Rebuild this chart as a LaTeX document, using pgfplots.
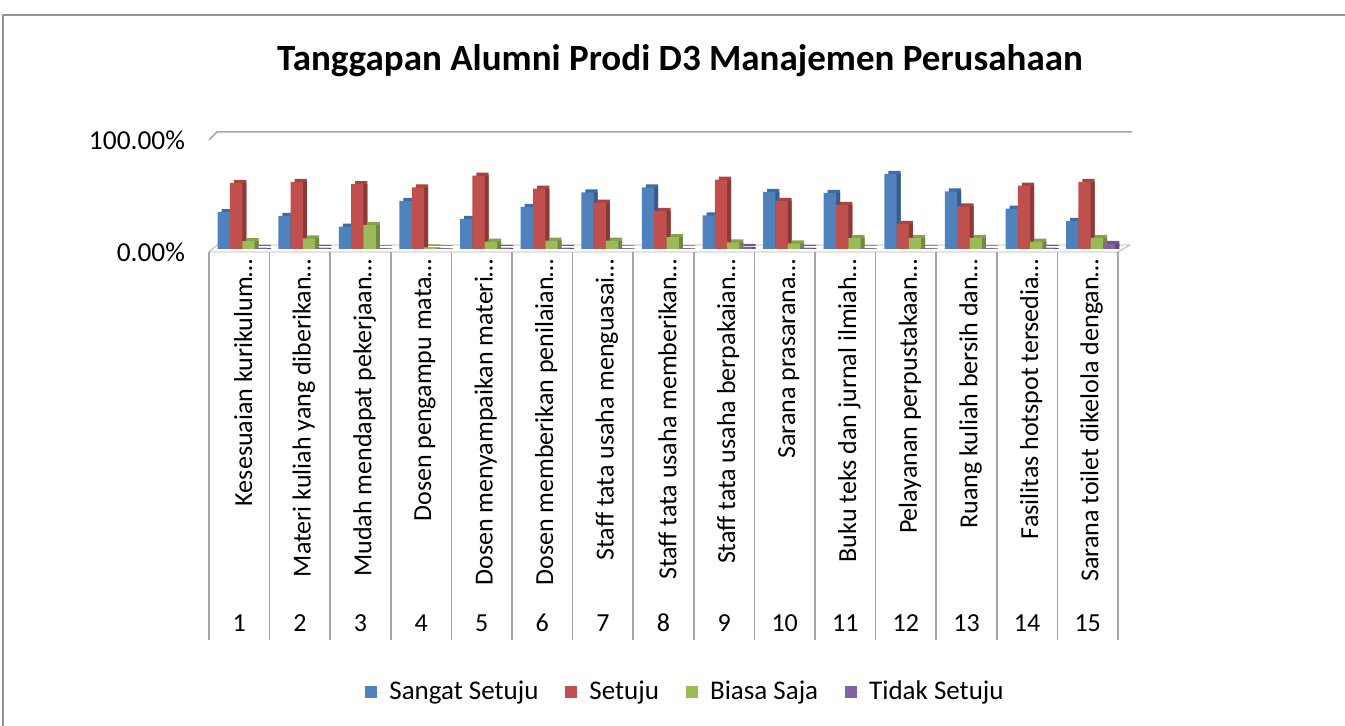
\documentclass[border=0pt]{standalone}
\usepackage{pgfplots}
\pgfplotsset{compat=1.18}
\usepackage{pgfplotstable}
\usepackage{fontspec}
\setmainfont{Carlito}
\definecolor{bF}{HTML}{4F81BD}\definecolor{bS}{HTML}{385D8A}\definecolor{bT}{HTML}{3E6CA4}
\definecolor{rF}{HTML}{C0504D}\definecolor{rS}{HTML}{8C3A37}\definecolor{rT}{HTML}{A84542}
\definecolor{gF}{HTML}{9BBB59}\definecolor{gS}{HTML}{71893F}\definecolor{gT}{HTML}{86A34B}
\definecolor{pF}{HTML}{8064A2}\definecolor{pS}{HTML}{5C4776}\definecolor{pT}{HTML}{6E5690}
\pgfplotstableread{
c ss s bs ts
1 33 59 7 1
2 29.5 60 9.5 1
3 20 58 21.5 0.5
4 43 55 1.5 0.5
5 27 65.5 6.5 1
6 37.5 54 7.5 1
7 50.5 41.5 7.5 0.5
8 55 34 10.5 0.5
9 30 62 6 2
10 51 43 5 1
11 50 39.5 10 0.5
12 67 22.5 10 0.5
13 51.5 38 10 0.5
14 36 56.5 6.5 1
15 25 60 10 4.5
}\data
\newcommand{\fs}{\fontsize{13}{15}\selectfont}
\newcommand{\fl}{\fontsize{13.5}{16}\selectfont}
\pgfplotsset{myleg/.style={legend image code/.code={\fill[##1] (0pt,-4.5pt) rectangle (6pt,1.5pt); \path (0pt,-1.5pt) -- (10pt,-1.5pt);}}}
\newcommand{\ser}[7]{%
\addplot[ybar, bar width=6.15pt, bar shift=#3, yshift=3pt, fill=#4, draw=none, forget plot] table[x=c,y=#1]{\data};
\addplot[ybar, bar width=6.15pt, bar shift=#3, yshift=1.5pt, fill=#5, draw=none, forget plot] table[x=c,y=#1]{\data};
\addplot[ybar, bar width=6.15pt, bar shift=#2, yshift=1.5pt, fill=#6, draw=none, myleg] table[x=c,y=#1]{\data};
\addlegendentry{#7}}
\begin{document}
\begin{tikzpicture}
\useasboundingbox (-104.5pt,-237pt) rectangle (568pt,126pt);
\draw[gray!85, line width=1pt] (-103pt,-237pt) -- (-103pt,118.5pt) -- (568pt,118.5pt);
\node[font=\bfseries\fontsize{18.5}{22}\selectfont] at (235.5pt,95.5pt) {Tanggapan Alumni Prodi D3 Manajemen Perusahaan};
\begin{axis}[at={(0,0)}, anchor=south west, scale only axis, width=454.5pt, height=56pt,
 xmin=0.5, xmax=15.5, ymin=0, ymax=100, clip=false,
 axis line style={draw=none}, major tick length=0pt,
 xtick={1,...,15},
 xticklabels={Kesesuaian kurikulum…, Materi kuliah yang diberikan…, Mudah mendapat pekerjaan…, Dosen pengampu mata…, Dosen menyampaikan materi…, Dosen memberikan penilaian…, Staff tata usaha menguasai…, Staff tata usaha memberikan…, Staff tata usaha berpakaian…, Sarana prasarana…, Buku teks dan jurnal ilmiah…, Pelayanan perpustakaan…, Ruang kuliah bersih dan…, Fasilitas hotspot tersedia…, Sarana toilet dikelola dengan…},
 xticklabel style={rotate=90, anchor=east, font=\fs, yshift=-2pt},
 ytick={0,100}, yticklabels={0.00\%,100.00\%},
 yticklabel style={font=\fontsize{13.7}{15}\selectfont, xshift=-8.5pt},
 legend style={at={(0.5,0)}, anchor=center, xshift=11.5pt, yshift=-220pt, draw=none, fill=none,
   font=\fl, /tikz/every even column/.append style={column sep=11.5pt}},
 legend columns=-1,
]
\draw[gray!60, fill=white] (axis cs:0.5,0) -- (axis cs:15.5,0) -- ([shift={(6pt,3.5pt)}]axis cs:15.5,0) -- ([shift={(4pt,3.5pt)}]axis cs:0.5,0) -- cycle;
\draw[gray!70, line width=0.75pt] (axis cs:0.5,100) -- ([shift={(4pt,4pt)}]axis cs:0.5,100) -- ([shift={(7pt,4pt)}]axis cs:15.5,100);
\pgfplotsinvokeforeach{0.5,1.5,...,15.5}{\draw[gray!70, line width=0.75pt] (axis cs:#1,0) -- ([yshift=-194pt]axis cs:#1,0);}
\pgfplotsinvokeforeach{1,...,15}{\node[font=\fs] at ([yshift=-185.5pt]axis cs:#1,0) {#1};}
\ser{ss}{-7.725pt}{-5.725pt}{bT}{bS}{bF}{Sangat Setuju}
\ser{s}{-1.575pt}{0.425pt}{rT}{rS}{rF}{Setuju}
\ser{bs}{4.575pt}{6.575pt}{gT}{gS}{gF}{Biasa Saja}
\ser{ts}{10.725pt}{12.725pt}{pT}{pS}{pF}{Tidak Setuju}
\end{axis}
\end{tikzpicture}
\end{document}
